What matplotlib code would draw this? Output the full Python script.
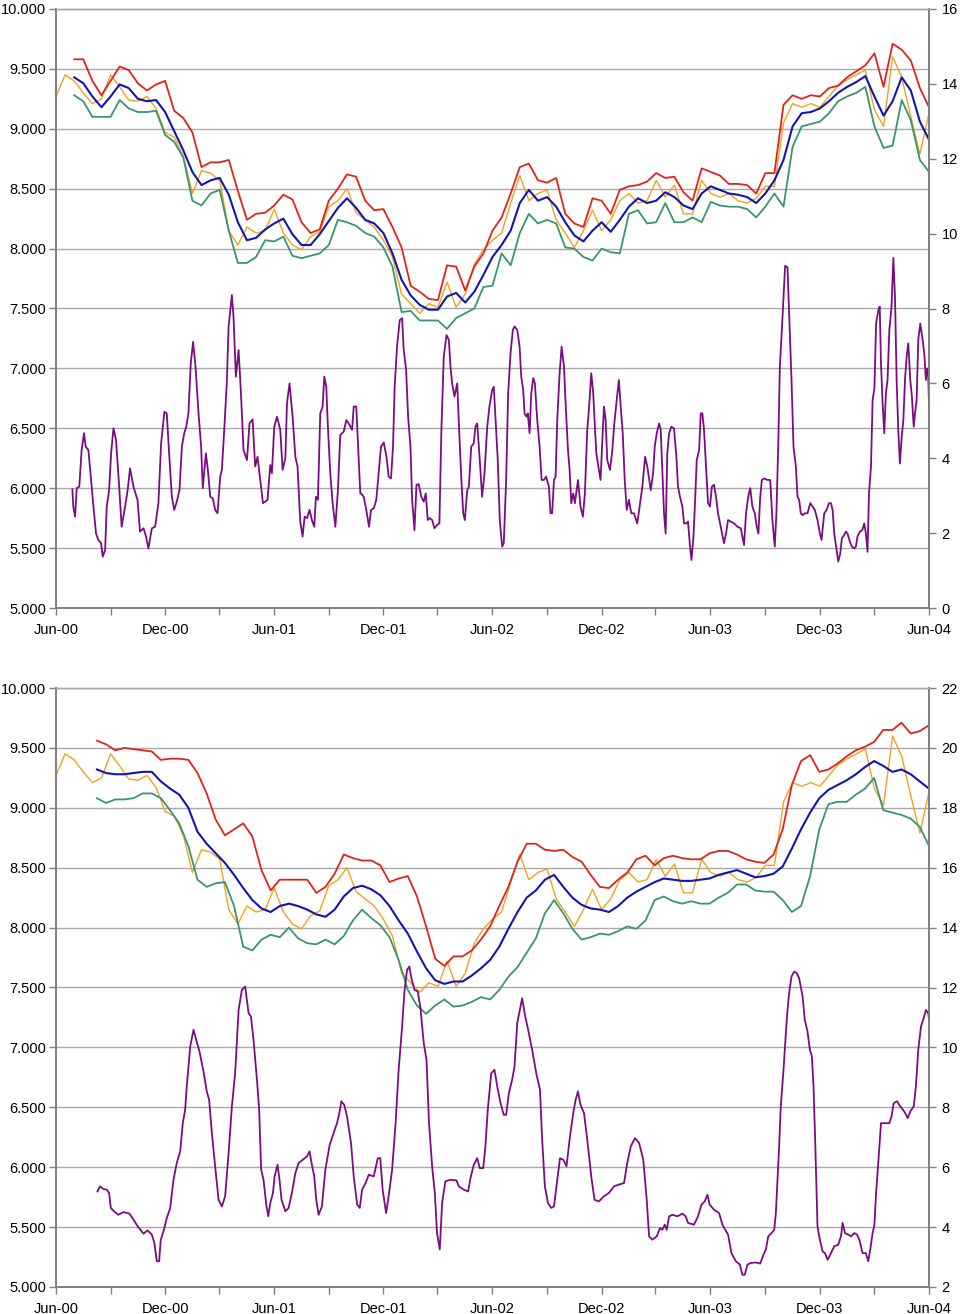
"""
Precio con bandas (media, banda superior e inferior) y ancho de banda en eje derecho.
Dos paneles: ventana corta (arriba) y ventana larga (abajo).
"""

import matplotlib
matplotlib.use("Agg")
import matplotlib.pyplot as plt
import matplotlib.dates as mdates
from matplotlib.ticker import FuncFormatter
import numpy as np
import pandas as pd

plt.rcParams["font.family"] = ["Liberation Sans", "DejaVu Sans"]

# ─────────────────────────────────────────────────────────────────────────────
# DATOS (meses desde Jun-00)
# ─────────────────────────────────────────────────────────────────────────────

INICIO = pd.Timestamp("2000-06-01")
FIN = pd.Timestamp("2004-06-01")

# precio (cada medio mes, Jun-00 .. Jun-04)
PRECIO = [
    9.27, 9.45, 9.40, 9.30, 9.21, 9.25, 9.45, 9.35, 9.24, 9.23, 9.27, 9.17,
    8.97, 8.93, 8.77, 8.46, 8.65, 8.63, 8.57, 8.15, 8.03, 8.18, 8.13, 8.15,
    8.33, 8.13, 8.03, 7.99, 8.10, 8.14, 8.35, 8.40, 8.50, 8.30,
    8.24, 8.18, 8.07, 7.93, 7.62, 7.54, 7.46, 7.54, 7.51, 7.72, 7.51, 7.62,
    7.87, 7.99, 8.07, 8.13, 8.38, 8.61, 8.40, 8.46, 8.49, 8.24, 8.13, 8.01,
    8.15, 8.32, 8.15, 8.24, 8.40, 8.46, 8.38, 8.40, 8.57,
    8.43, 8.53, 8.29, 8.29, 8.57, 8.46, 8.43, 8.46, 8.40, 8.38, 8.42, 8.52,
    8.52, 9.05, 9.21, 9.18, 9.21, 9.18, 9.27, 9.36, 9.41, 9.45, 9.49, 9.16,
    9.02, 9.60, 9.43, 9.10, 8.79, 9.13,
]

# panel superior: bandas desde el mes 1 hasta el 48
SUP_MEDIA = [
    9.43, 9.38, 9.27, 9.18, 9.27, 9.37, 9.34, 9.25, 9.23, 9.24, 9.14, 8.98,
    8.82, 8.64, 8.53, 8.57, 8.59, 8.45, 8.22, 8.07, 8.09, 8.16, 8.21, 8.25,
    8.12, 8.03, 8.03, 8.12, 8.23, 8.34, 8.42, 8.34,
    8.24, 8.21, 8.13, 7.96, 7.74, 7.61, 7.53, 7.49, 7.49, 7.60, 7.63, 7.55,
    7.64, 7.78, 7.93, 8.03, 8.15, 8.38, 8.49, 8.40, 8.43, 8.35, 8.22, 8.11,
    8.06, 8.15, 8.22, 8.14, 8.24, 8.35, 8.42, 8.38, 8.40,
    8.47, 8.43, 8.36, 8.33, 8.46, 8.52, 8.49, 8.46, 8.45, 8.43, 8.38, 8.46,
    8.57, 8.74, 9.02, 9.13, 9.14, 9.17, 9.23, 9.30, 9.35, 9.39, 9.44, 9.27,
    9.11, 9.23, 9.43, 9.32, 9.06, 8.91,
]
SUP_ALTA = [
    9.58, 9.58, 9.40, 9.28, 9.40, 9.52, 9.49, 9.38, 9.32, 9.37, 9.40, 9.15,
    9.09, 8.97, 8.68, 8.72, 8.72, 8.74, 8.48, 8.24, 8.29, 8.30, 8.36, 8.45,
    8.41, 8.22, 8.13, 8.16, 8.40, 8.50, 8.62, 8.60,
    8.40, 8.32, 8.33, 8.18, 8.01, 7.69, 7.64, 7.58, 7.57, 7.86, 7.85, 7.65,
    7.85, 7.96, 8.15, 8.26, 8.46, 8.68, 8.71, 8.57, 8.55, 8.59, 8.29, 8.21,
    8.18, 8.42, 8.40, 8.29, 8.49, 8.52, 8.53, 8.56, 8.63,
    8.59, 8.60, 8.47, 8.40, 8.67, 8.64, 8.61, 8.54, 8.54, 8.53, 8.46, 8.63,
    8.63, 9.20, 9.28, 9.25, 9.28, 9.27, 9.34, 9.36, 9.43, 9.48, 9.53, 9.63,
    9.35, 9.71, 9.66, 9.57, 9.34, 9.18,
]
SUP_BAJA = [
    9.28, 9.23, 9.10, 9.10, 9.10, 9.24, 9.17, 9.14, 9.14, 9.15, 8.95, 8.89,
    8.76, 8.40, 8.36, 8.46, 8.49, 8.15, 7.88, 7.88, 7.93, 8.07, 8.06, 8.10,
    7.94, 7.92, 7.94, 7.96, 8.03, 8.24, 8.22, 8.19,
    8.13, 8.10, 8.01, 7.85, 7.47, 7.48, 7.40, 7.40, 7.40, 7.33, 7.42, 7.46,
    7.50, 7.68, 7.69, 7.96, 7.86, 8.13, 8.29, 8.21, 8.24, 8.21, 8.01, 8.00,
    7.93, 7.90, 8.00, 7.97, 7.96, 8.29, 8.32, 8.21, 8.22,
    8.38, 8.22, 8.22, 8.26, 8.22, 8.39, 8.36, 8.35, 8.35, 8.33, 8.26, 8.35,
    8.46, 8.35, 8.85, 9.02, 9.04, 9.06, 9.13, 9.23, 9.27, 9.30, 9.35, 9.02,
    8.84, 8.86, 9.24, 9.07, 8.74, 8.64,
]

# ancho de banda del panel superior (eje derecho 0-16)
SUP_ANCHO_M = [
    0.90, 0.95, 1.05, 1.14, 1.28, 1.41, 1.54, 1.63, 1.78, 1.91, 2.06, 2.20,
    2.33, 2.48, 2.57, 2.70, 2.79, 2.92, 3.03, 3.16, 3.30, 3.45, 3.61, 3.80,
    3.94, 4.07, 4.26, 4.48, 4.62, 4.81, 4.95, 5.08, 5.27, 5.45, 5.63, 5.78,
    5.96, 6.09, 6.22, 6.37, 6.50, 6.64, 6.79, 6.92, 7.05, 7.16, 7.28, 7.41,
    7.54, 7.67, 7.85, 7.98, 8.07, 8.24, 8.35, 8.48, 8.62, 8.75, 8.88, 9.03,
    9.12, 9.25, 9.39, 9.49, 9.67, 9.76, 9.89, 10.04, 10.17, 10.31, 10.50, 10.64,
    10.81, 10.95, 11.08, 11.23, 11.38, 11.50, 11.63, 11.78, 11.87, 12.00, 12.15, 12.33,
    12.46, 12.61, 12.70, 12.84, 13.01, 13.16, 13.28, 13.43, 13.56, 13.67, 13.80, 13.94,
    14.07, 14.20, 14.29, 14.40, 14.53, 14.66, 14.75, 14.86, 14.95, 15.08, 15.21, 15.36,
    15.50, 15.63, 15.82, 15.96, 16.09, 16.28, 16.37, 16.51, 16.64, 16.73,
    16.77, 16.92, 17.06, 17.21, 17.32, 17.47, 17.61, 17.74, 17.87, 18.02, 18.17, 18.29,
    18.42, 18.53, 18.62, 18.75, 18.90, 19.03, 19.12, 19.25, 19.36, 19.49, 19.58, 19.71,
    19.82, 19.94, 20.09, 20.22, 20.33, 20.44, 20.55, 20.68, 20.81, 20.95, 21.08, 21.19,
    21.32, 21.47, 21.60, 21.69, 21.78, 21.91, 22.06, 22.15, 22.28, 22.39, 22.48, 22.61,
    22.70, 22.83, 22.97, 23.06, 23.16, 23.30, 23.43, 23.56, 23.71, 23.83, 23.98, 24.07,
    24.17, 24.29, 24.40, 24.53, 24.62, 24.75, 24.86, 24.99, 25.12, 25.21, 25.36, 25.49,
    25.58, 25.69, 25.76, 25.87, 25.94, 26.04, 26.13, 26.24, 26.33, 26.46, 26.59, 26.70,
    26.83, 26.95, 27.10, 27.19, 27.28, 27.38, 27.47, 27.56, 27.69, 27.80, 27.93, 28.02,
    28.15, 28.24, 28.33, 28.44, 28.53, 28.70, 28.84, 28.97, 29.08, 29.21, 29.30, 29.43,
    29.54, 29.61, 29.71, 29.82, 29.94, 30.04, 30.13, 30.22, 30.31, 30.46, 30.59, 30.68,
    30.83, 30.95, 31.05, 31.16, 31.27, 31.38, 31.50, 31.63, 31.78, 31.96, 32.09, 32.24,
    32.39, 32.51, 32.70, 32.83, 32.92, 33.03, 33.16, 33.25,
    33.36, 33.43, 33.52, 33.61, 33.71, 33.83, 33.98, 34.11, 34.20, 34.31, 34.44, 34.53,
    34.66, 34.75, 34.86, 34.94, 35.05, 35.14, 35.23, 35.36, 35.45, 35.54, 35.63, 35.74,
    35.85, 35.96, 36.06, 36.18, 36.29, 36.40, 36.55, 36.73, 36.84, 36.95, 37.10, 37.28,
    37.47, 37.65, 37.74, 37.83, 37.94, 38.06, 38.17, 38.29, 38.42, 38.53, 38.62, 38.72,
    38.81, 38.94, 39.12, 39.27, 39.39, 39.52, 39.61, 39.71, 39.80, 39.89, 40.00, 40.09,
    40.22, 40.31, 40.44, 40.55, 40.68, 40.77, 40.86, 40.95, 41.05, 41.17, 41.32, 41.47,
    41.60, 41.72, 41.87, 42.00, 42.09, 42.24, 42.37, 42.50, 42.61, 42.70, 42.79, 42.92,
    43.01, 43.12, 43.21, 43.34, 43.43, 43.52, 43.65, 43.76, 43.89, 43.98, 44.07, 44.20,
    44.33, 44.44, 44.53, 44.62, 44.70, 44.81, 44.90, 45.00, 45.09, 45.22, 45.29, 45.36,
    45.45, 45.54, 45.63, 45.72, 45.82, 45.94, 46.04, 46.13, 46.22, 46.31, 46.40, 46.50,
    46.59, 46.68, 46.77, 46.86, 46.97, 47.06, 47.16, 47.23, 47.32, 47.41, 47.52, 47.65,
    47.74, 47.83, 47.90, 47.96, 48.00,
]
SUP_ANCHO_V = [
    3.17, 2.71, 2.44, 3.20, 3.24, 4.22, 4.67, 4.31, 4.22, 3.51, 2.71, 1.99,
    1.82, 1.73, 1.37, 1.55, 2.71, 3.15, 4.13, 4.80, 4.49, 3.42, 2.17, 2.71,
    3.15, 3.73, 3.24, 2.89, 2.04, 2.13, 1.91, 1.59, 2.13, 2.17, 2.80, 4.40,
    5.24, 5.20, 4.13, 2.97, 2.62, 2.84, 3.15, 4.31, 4.67, 4.84, 5.20, 6.54,
    7.11, 6.45, 5.11, 4.31, 3.20, 4.13, 3.69, 2.97, 2.93, 2.62, 2.53, 3.51,
    3.69, 4.76, 6.00, 7.52, 8.36, 7.78, 6.18, 6.89, 5.73, 4.22, 3.95, 4.93,
    5.04, 3.78, 4.04, 3.42, 2.80, 2.84, 2.89, 3.82, 3.60, 4.84, 5.11, 4.76,
    3.69, 4.00, 5.47, 6.00, 5.11, 4.04, 3.78, 2.31, 1.91, 2.44, 2.40, 2.62,
    2.35, 2.17, 2.97, 2.89, 5.20, 5.38, 6.18, 5.91, 4.84, 3.60, 2.80, 2.17,
    3.15, 4.62, 4.71, 5.02, 4.93, 4.76, 5.38, 5.38, 4.04, 3.06,
    3.06, 2.97, 2.62, 2.17, 2.62, 2.66, 2.89, 3.60, 4.31, 4.42, 4.04, 3.51,
    3.46, 4.31, 5.91, 6.98, 7.69, 7.74, 6.89, 6.36, 5.11, 4.31, 2.89, 2.08,
    3.29, 3.31, 2.97, 2.84, 3.06, 2.35, 2.40, 2.35, 2.13, 2.22, 2.26, 4.76,
    6.71, 7.29, 7.16, 6.45, 6.00, 5.65, 6.00, 4.93, 3.51, 2.53, 2.35, 3.15,
    3.24, 4.31, 4.40, 4.84, 4.93, 3.95, 2.97, 3.60, 4.84, 5.38, 5.82, 5.91,
    5.02, 3.95, 2.35, 1.64, 1.73, 3.42, 5.73, 6.80, 7.43, 7.52, 7.43, 6.98,
    6.18, 5.82, 5.20, 5.11, 5.20, 4.67, 5.73, 6.14, 6.00, 5.02, 4.31, 3.42,
    3.42, 3.51, 3.24, 2.53, 2.53, 3.42, 3.51, 5.02, 6.27, 6.98, 6.45, 5.47,
    4.22, 3.69, 2.80, 3.06, 2.80, 3.42, 2.71, 2.44, 3.06, 4.76, 5.29, 6.27,
    5.73, 5.02, 4.13, 3.78, 3.42, 4.49, 5.38, 5.02, 3.95, 3.69, 4.22, 4.84,
    5.56, 6.09, 5.38, 4.67, 3.42, 2.62, 2.89, 2.53, 2.53, 2.26, 2.71, 3.24,
    4.04, 3.78, 3.15, 3.60, 4.31, 4.67, 4.93, 4.76,
    3.42, 2.53, 1.99, 4.13, 4.67, 4.84, 4.80, 4.04, 3.24, 2.97, 2.71, 2.26,
    2.26, 2.31, 1.64, 1.28, 1.91, 2.89, 3.95, 4.22, 5.20, 5.20, 4.76, 3.78,
    2.80, 2.71, 3.24, 3.29, 2.97, 2.53, 2.17, 1.73, 1.99, 2.35, 2.31, 2.26,
    2.17, 2.13, 1.91, 1.68, 2.53, 2.97, 3.20, 2.71, 2.53, 2.17, 1.99, 2.97,
    3.42, 3.46, 3.42, 3.42, 2.35, 1.64, 2.53, 4.31, 6.45, 7.25, 8.32, 9.14,
    9.10, 7.87, 6.09, 4.31, 3.78, 2.97, 2.89, 2.53, 2.48, 2.53, 2.53, 2.80,
    2.71, 2.62, 2.35, 1.99, 1.82, 2.53, 2.62, 2.80, 2.80, 2.62, 1.99, 1.55,
    1.24, 1.46, 1.86, 1.95, 2.04, 1.99, 1.77, 1.64, 1.59, 1.64, 1.91, 2.04,
    2.08, 2.26, 1.99, 1.50, 3.06, 3.78, 5.56, 5.87, 7.60, 7.96, 8.05, 6.54,
    5.47, 4.67, 5.73, 6.09, 7.43, 8.05, 9.35, 8.32, 6.09, 4.76, 3.86, 4.58,
    5.02, 6.09, 6.71, 7.07, 6.09, 5.65, 4.84, 5.20, 5.56, 7.16, 7.60, 7.16,
    6.80, 6.09, 6.40, 6.18, 5.42,
]

# panel inferior: bandas desde el mes 2.25 hasta el 48
INF_MEDIA = [
    9.32, 9.29, 9.28, 9.28, 9.29, 9.30, 9.30, 9.22, 9.16, 9.11, 9.00, 8.80,
    8.70, 8.62, 8.54, 8.44, 8.33, 8.23, 8.16, 8.13, 8.18, 8.20, 8.18, 8.15,
    8.11, 8.09, 8.15, 8.26, 8.33,
    8.35, 8.32, 8.27, 8.18, 8.06, 7.95, 7.80, 7.66, 7.56, 7.53, 7.55, 7.55,
    7.60, 7.66, 7.73, 7.84, 7.99, 8.13, 8.25, 8.31, 8.40, 8.44, 8.34, 8.25,
    8.19, 8.16, 8.15, 8.13, 8.18, 8.25, 8.30, 8.34, 8.38,
    8.41, 8.40, 8.39, 8.39, 8.40, 8.41, 8.44, 8.46, 8.48, 8.45, 8.42, 8.43,
    8.45, 8.51, 8.66, 8.82, 8.96, 9.08, 9.15, 9.19, 9.23, 9.28, 9.34, 9.39,
    9.35, 9.30, 9.32, 9.28, 9.22, 9.16,
]
INF_ALTA = [
    9.56, 9.53, 9.48, 9.50, 9.49, 9.48, 9.47, 9.40, 9.41, 9.41, 9.40, 9.29,
    9.12, 8.90, 8.77, 8.82, 8.87, 8.76, 8.48, 8.31, 8.40, 8.40, 8.40, 8.40,
    8.29, 8.34, 8.45, 8.61, 8.58,
    8.56, 8.56, 8.52, 8.38, 8.41, 8.43, 8.26, 8.01, 7.74, 7.68, 7.76, 7.76,
    7.81, 7.90, 8.01, 8.18, 8.34, 8.55, 8.70, 8.70, 8.65, 8.64, 8.65, 8.59,
    8.55, 8.44, 8.34, 8.33, 8.40, 8.46, 8.57, 8.60, 8.52,
    8.58, 8.60, 8.58, 8.57, 8.57, 8.62, 8.64, 8.64, 8.61, 8.57, 8.55, 8.54,
    8.61, 8.82, 9.19, 9.39, 9.44, 9.30, 9.32, 9.37, 9.43, 9.48, 9.51, 9.55,
    9.65, 9.65, 9.71, 9.62, 9.64, 9.69,
]
INF_BAJA = [
    9.08, 9.04, 9.07, 9.07, 9.08, 9.12, 9.12, 9.08, 8.98, 8.87, 8.68, 8.40,
    8.34, 8.37, 8.38, 8.18, 7.84, 7.81, 7.90, 7.94, 7.92, 8.00, 7.91, 7.87,
    7.86, 7.90, 7.86, 7.93, 8.06,
    8.15, 8.08, 8.02, 7.92, 7.73, 7.48, 7.35, 7.28, 7.35, 7.40, 7.34, 7.35,
    7.38, 7.42, 7.40, 7.48, 7.59, 7.67, 7.79, 7.91, 8.12, 8.23, 8.12, 7.99,
    7.90, 7.92, 7.95, 7.94, 7.97, 8.01, 7.99, 8.06, 8.23,
    8.26, 8.22, 8.20, 8.22, 8.20, 8.20, 8.25, 8.29, 8.36, 8.36, 8.31, 8.30,
    8.30, 8.23, 8.13, 8.18, 8.43, 8.82, 9.03, 9.05, 9.05, 9.11, 9.16, 9.25,
    8.98, 8.96, 8.94, 8.91, 8.84, 8.68,
]

# ancho de banda del panel inferior (eje derecho 2-22)
INF_ANCHO_M = [
    2.28, 2.42, 2.61, 2.79, 2.92, 3.01, 3.19, 3.43, 3.71, 4.04, 4.26, 4.50,
    4.81, 5.03, 5.27, 5.41, 5.54, 5.67, 5.76, 5.91, 6.09, 6.28, 6.46, 6.64,
    6.83, 6.97, 7.10, 7.19, 7.38, 7.56, 7.71, 7.89, 8.11, 8.29, 8.42, 8.57,
    8.75, 8.94, 9.12, 9.30, 9.49, 9.67, 9.85, 10.04, 10.22, 10.40, 10.59, 10.72,
    10.86, 11.05, 11.17, 11.28, 11.41, 11.56, 11.67, 11.78, 11.93, 12.02, 12.18, 12.29,
    12.40, 12.61, 12.79, 12.97, 13.16, 13.34, 13.61, 13.80, 13.94, 14.07, 14.20, 14.31,
    14.44, 14.62, 14.81, 15.05, 15.27, 15.45, 15.58, 15.69, 15.85, 16.00, 16.22, 16.37,
    16.56, 16.70,
    16.83, 17.02, 17.20, 17.47, 17.69, 17.83, 17.96, 18.15, 18.29, 18.48, 18.66, 18.84,
    19.03, 19.16, 19.30, 19.43, 19.54, 19.71, 19.89, 20.04, 20.22, 20.37, 20.51, 20.68,
    20.83, 20.95, 21.10, 21.23, 21.41, 21.69, 22.02, 22.15, 22.42, 22.66, 22.79, 22.97,
    23.16, 23.30, 23.49, 23.61, 23.74, 23.93, 24.11, 24.26, 24.44, 24.62, 24.75, 24.90,
    25.08, 25.21, 25.36, 25.50, 25.63, 25.78, 25.96, 26.18, 26.42, 26.61, 26.73, 26.88,
    27.05, 27.23, 27.38, 27.56, 27.71, 27.89, 28.07, 28.26, 28.44, 28.57, 28.70, 28.84,
    29.03, 29.21, 29.43, 29.61, 29.85, 30.13, 30.40, 30.68, 30.95, 31.23, 31.41, 31.60,
    31.83, 32.06, 32.29, 32.48, 32.61, 32.79, 33.03, 33.21,
    33.34, 33.47, 33.58, 33.71, 33.89, 34.17, 34.44, 34.62, 34.75, 35.08, 35.30, 35.49,
    35.67, 35.82, 35.94, 36.18, 36.46, 36.64, 36.95, 37.14, 37.38, 37.60, 37.74, 37.87,
    38.02, 38.20, 38.48, 38.72, 38.90, 39.03, 39.16, 39.34, 39.49, 39.58, 39.67, 39.76,
    39.85, 40.00, 40.13, 40.22, 40.31, 40.44, 40.59, 40.73, 40.86, 41.05, 41.17, 41.32,
    41.45, 41.56, 41.65, 41.74, 41.87, 42.00, 42.15, 42.28, 42.42, 42.61, 42.79, 43.01,
    43.16, 43.25, 43.38, 43.56, 43.71, 43.89, 44.04, 44.17, 44.35, 44.53, 44.66, 44.77,
    44.90, 45.00, 45.09, 45.21, 45.36, 45.54, 45.82, 45.94, 46.06, 46.24, 46.42, 46.64,
    46.83, 46.97, 47.16, 47.28, 47.41, 47.56, 47.71, 47.83, 47.96, 48.00,
]
INF_ANCHO_V = [
    5.19, 5.36, 5.27, 5.25, 5.14, 4.64, 4.53, 4.41, 4.50, 4.45, 4.25, 4.02,
    3.78, 3.89, 3.75, 3.47, 2.86, 2.86, 3.58, 3.86, 4.30, 4.64, 5.58, 6.14,
    6.53, 7.47, 7.92, 8.70, 10.03, 10.59, 10.25, 9.86, 9.20, 8.53, 8.25, 7.14,
    6.03, 4.91, 4.69, 5.03, 6.47, 8.03, 9.14, 11.25, 11.92, 12.03, 11.14, 11.03,
    10.25, 8.92, 7.92, 5.92, 5.58, 4.75, 4.36, 4.80, 5.14, 5.69, 6.08, 5.58,
    4.91, 4.53, 4.64, 5.14, 5.80, 6.14, 6.27, 6.36, 6.53, 6.08, 5.69, 4.91,
    4.41, 4.69, 5.92, 6.75, 7.14, 7.47, 7.81, 8.20, 8.08, 7.70, 6.81, 5.69,
    4.75, 4.64,
    5.25, 5.47, 5.75, 5.69, 6.30, 6.30, 5.25, 4.47, 5.03, 5.92, 7.36, 9.25,
    10.70, 11.87, 12.59, 12.70, 12.31, 11.92, 11.87, 11.31, 10.14, 9.59, 7.47, 6.03,
    5.14, 3.80, 3.25, 4.80, 5.53, 5.58, 5.56, 5.36, 5.25, 5.19, 5.64, 6.08,
    6.30, 5.97, 5.97, 6.69, 7.92, 9.14, 9.25, 8.70, 8.14, 7.75, 7.75, 8.47,
    8.92, 9.36, 10.81, 11.25, 11.64, 11.09, 10.59, 9.92, 9.09, 8.59, 6.92, 5.36,
    4.80, 4.64, 4.69, 5.58, 6.30, 6.25, 6.03, 7.03, 7.81, 8.25, 8.53, 8.08,
    7.81, 6.92, 5.69, 4.91, 4.86, 5.03, 5.14, 5.36, 5.42, 5.47, 6.14, 6.69,
    6.97, 6.81, 6.25, 4.91, 3.69, 3.58, 3.69, 3.97,
    3.91, 4.08, 3.91, 4.36, 4.41, 4.36, 4.45, 4.36, 4.14, 4.08, 4.36, 4.75,
    4.86, 5.08, 4.75, 4.58, 4.47, 4.08, 3.75, 3.13, 2.86, 2.75, 2.41, 2.41,
    2.75, 2.80, 2.82, 2.78, 3.08, 3.25, 3.69, 3.80, 3.91, 4.47, 5.58, 6.69,
    8.03, 9.25, 10.48, 11.25, 11.81, 12.37, 12.53, 12.48, 12.31, 11.70, 10.92, 10.53,
    9.92, 9.70, 8.70, 6.92, 4.02, 3.58, 3.19, 3.13, 2.91, 3.13, 3.36, 3.41,
    3.69, 4.14, 3.80, 3.75, 3.69, 3.80, 3.75, 3.58, 3.13, 3.13, 2.86, 3.25,
    3.80, 4.08, 5.14, 6.14, 7.47, 7.47, 7.47, 7.70, 8.14, 8.20, 8.03, 7.86,
    7.64, 7.86, 8.03, 8.70, 9.92, 10.70, 10.98, 11.25, 11.14, 10.92,
]

COLORES = {
    "precio": "#F2A21F",
    "media":  "#1414B4",
    "alta":   "#E2231A",
    "baja":   "#36976B",
    "ancho":  "#7D0C84",
}
GRID_COLOR = "#A9A9A9"
EJE_COLOR = "#7F7F7F"


def a_fechas(meses):
    # meses desde Jun-00 -> fechas reales
    return INICIO + pd.to_timedelta(np.asarray(meses, dtype=float) * 30.4375, unit="D")


def serie(inicio, fin, valores):
    return a_fechas(np.linspace(inicio, fin, len(valores))), valores


# ─────────────────────────────────────────────────────────────────────────────
# FIGURA
# ─────────────────────────────────────────────────────────────────────────────

fig = plt.figure(figsize=(9.6, 13.14), dpi=100)
fig.patch.set_facecolor("white")

W, H = 960, 1314
ax_sup = fig.add_axes([56 / W, 1 - 608 / H, 873 / W, 599 / H])
ax_inf = fig.add_axes([56 / W, 1 - 1287 / H, 873 / W, 599 / H])


def estilo(ax, ax_r, rmin, rmax):
    ax.set_xlim(INICIO, FIN)
    ax.set_ylim(5, 10)
    ax.set_yticks(np.arange(5, 10.01, 0.5))
    ax.yaxis.set_major_formatter(FuncFormatter(lambda v, p: f"{v:.3f}"))
    ax.grid(axis="y", color=GRID_COLOR, linewidth=1.0)
    ax.set_axisbelow(True)
    ax.xaxis.set_major_locator(mdates.MonthLocator(bymonth=[6, 12]))
    ax.xaxis.set_minor_locator(mdates.MonthLocator(bymonth=[3, 9]))
    ax.xaxis.set_major_formatter(mdates.DateFormatter("%b-%y"))
    for a in (ax, ax_r):
        a.tick_params(axis="both", which="both", direction="out", length=5,
                      width=1, color=EJE_COLOR, labelsize=10.5, pad=2)
        for lado, spine in a.spines.items():
            spine.set_color(EJE_COLOR)
            spine.set_linewidth(1.2)
        a.spines["top"].set_color(GRID_COLOR)
        a.spines["top"].set_linewidth(1.0)
    ax.tick_params(axis="x", which="major", pad=6)
    ax_r.set_ylim(rmin, rmax)
    ax_r.set_yticks(range(rmin, rmax + 1, 2))
    ax_r.yaxis.set_major_formatter(FuncFormatter(lambda v, p: f"{v:.0f}"))
    ax_r.tick_params(axis="y", pad=4)


# ── Panel superior ───────────────────────────────────────────────────────────
ax_sup.plot(*serie(0, 48, PRECIO), color=COLORES["precio"], linewidth=1.0)
ax_sup.plot(*serie(1, 48, SUP_BAJA), color=COLORES["baja"], linewidth=1.3)
ax_sup.plot(*serie(1, 48, SUP_ALTA), color=COLORES["alta"], linewidth=1.3)
ax_sup.plot(*serie(1, 48, SUP_MEDIA), color=COLORES["media"], linewidth=1.5)
ax_sup_r = ax_sup.twinx()
ax_sup_r.plot(a_fechas(SUP_ANCHO_M), SUP_ANCHO_V, color=COLORES["ancho"], linewidth=1.3)
estilo(ax_sup, ax_sup_r, 0, 16)

# ── Panel inferior ───────────────────────────────────────────────────────────
ax_inf.plot(*serie(0, 48, PRECIO), color=COLORES["precio"], linewidth=1.0)
ax_inf.plot(*serie(2.25, 48, INF_BAJA), color=COLORES["baja"], linewidth=1.3)
ax_inf.plot(*serie(2.25, 48, INF_ALTA), color=COLORES["alta"], linewidth=1.3)
ax_inf.plot(*serie(2.25, 48, INF_MEDIA), color=COLORES["media"], linewidth=1.5)
ax_inf_r = ax_inf.twinx()
ax_inf_r.plot(a_fechas(INF_ANCHO_M), INF_ANCHO_V, color=COLORES["ancho"], linewidth=1.3)
estilo(ax_inf, ax_inf_r, 2, 22)

plt.savefig("out.png", dpi=100, facecolor=fig.get_facecolor())
